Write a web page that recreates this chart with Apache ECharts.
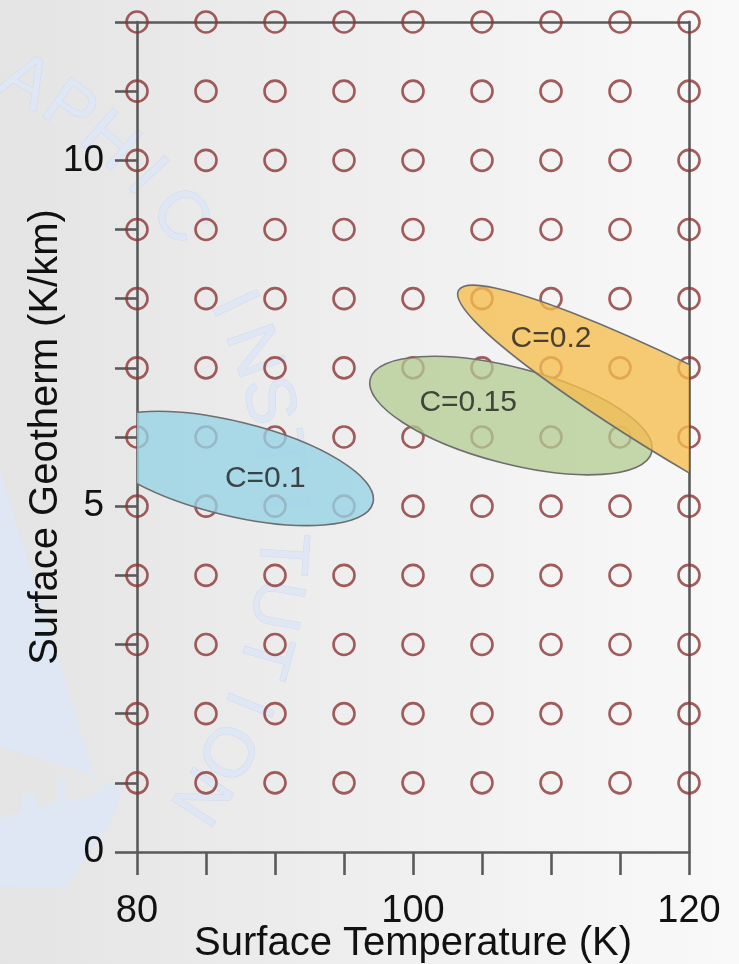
<!DOCTYPE html>
<html>
<head>
<meta charset="utf-8">
<script src="https://cdn.jsdelivr.net/npm/echarts@6/dist/echarts.min.js"></script>
<style>
html,body{margin:0;padding:0;overflow:hidden;}
#chart{width:739px;height:964px;}
</style>
</head>
<body>
<div id="chart"></div>
<script>
// ---- data ----
const xValues = [80, 85, 90, 95, 100, 105, 110, 115, 120];
const yValues = [1, 2, 3, 4, 5, 6, 7, 8, 9, 10, 11, 12];
const xTickLabels = ['80', '100', '120'];
const yTickLabels = ['0', '5', '10'];
const regionNames = ['C=0.1', 'C=0.15', 'C=0.2'];
// major-axis end points [x1, y1, x2, y2] in data units
const regionAxisEnds = [
  [76.7, 6.04, 97.1, 5.05],
  [96.9, 6.84, 117.3, 5.78],
  [103.3, 8.12, 151.1, 2.86]
];
// minor-axis full width in y (K/km) units
const regionWidths = [1.36, 1.39, 1.44];
const regionLabelX = [89.3, 104.0, 110.0];
const regionLabelY = [5.40, 6.50, 7.42];
const watermarkText = 'APHIC INSTITUTION';

// ---- styles ----
const axisColor = '#5a5a5a';
const regionFills = ['rgba(150,212,230,0.78)', 'rgba(178,204,146,0.75)', 'rgba(246,188,78,0.78)'];
const font = "'Liberation Sans', Arial, sans-serif";
const wmFill = 'rgba(222,231,246,0.95)';

const gridPoints = [];
yValues.forEach(y => xValues.forEach(x => gridPoints.push([x, y])));

const regionData = regionAxisEnds.map((e, i) => [e[0], e[1], e[2], e[3], regionWidths[i], i]);
const labelData = regionNames.map((n, i) => ({ name: n, value: [regionLabelX[i], regionLabelY[i]] }));

const chart = echarts.init(document.getElementById('chart'), null, { renderer: 'canvas' });

// watermark: letters along an arc and a ship silhouette
const wmGraphics = [];
const wmC = [-219, 520], wmR = 500;
const wmStart = -60.8, wmStep = 5.88;
for (let i = 0; i < watermarkText.length; i++) {
  const ch = watermarkText[i];
  if (ch === ' ') continue;
  const th = (wmStart + i * wmStep) * Math.PI / 180;
  wmGraphics.push({
    type: 'text',
    x: wmC[0] + wmR * Math.cos(th),
    y: wmC[1] + wmR * Math.sin(th),
    rotation: -(th + Math.PI / 2),
    z: -10, silent: true,
    style: {
      text: ch, fontSize: 70, fontFamily: font,
      fill: wmFill, stroke: 'rgba(205,216,234,0.9)', lineWidth: 1,
      align: 'center', verticalAlign: 'middle'
    }
  });
}
wmGraphics.push({
  type: 'polygon', z: -11, silent: true,
  shape: { points: [[0, 470], [97, 786], [90, 773], [0, 747]] },
  style: { fill: wmFill }
});
wmGraphics.push({
  type: 'polygon', z: -11, silent: true,
  shape: { points: [[0, 818], [22, 812], [22, 793], [37, 793], [37, 808], [57, 803], [57, 778], [65, 778], [65, 801], [92, 796], [108, 782], [122, 790], [112, 820], [66, 887], [0, 887]] },
  style: { fill: wmFill }
});
wmGraphics.push({
  type: 'polyline', z: -11, silent: true,
  shape: { points: [[0, 745], [90, 770]] },
  style: { stroke: wmFill, lineWidth: 2 }
});

const axisLineStyle = { color: axisColor, width: 2.6 };

const option = {
  animation: false,
  backgroundColor: new echarts.graphic.LinearGradient(0, 0, 1, 0, [
    { offset: 0, color: '#e4e4e4' },
    { offset: 1, color: '#f9f9f9' }
  ]),
  graphic: wmGraphics,
  grid: { left: 137, right: 50, top: 22, bottom: 112, containLabel: false, outerBoundsMode: 'none' },
  xAxis: [
    {
      type: 'value', min: 80, max: 120, interval: 5, position: 'bottom',
      axisLine: { show: true, onZero: false, lineStyle: axisLineStyle },
      axisTick: { show: true, length: 23, lineStyle: axisLineStyle },
      axisLabel: {
        show: true, fontSize: 38, fontFamily: font, color: '#111', margin: 41,
        formatter: v => (xTickLabels.indexOf(String(v)) >= 0 ? String(v) : '')
      },
      splitLine: { show: false },
      name: 'Surface Temperature (K)', nameLocation: 'middle', nameGap: 72, nameMoveOverlap: false,
      nameTextStyle: { fontSize: 40, fontFamily: font, color: '#111' }
    },
    {
      type: 'value', min: 80, max: 120, position: 'top',
      axisLine: { show: true, onZero: false, lineStyle: axisLineStyle },
      axisTick: { show: false }, axisLabel: { show: false }, splitLine: { show: false }
    }
  ],
  yAxis: [
    {
      type: 'value', min: 0, max: 12, interval: 1, position: 'left',
      axisLine: { show: true, onZero: false, lineStyle: axisLineStyle },
      axisTick: { show: true, length: 22, lineStyle: axisLineStyle },
      axisLabel: {
        show: true, fontSize: 37, fontFamily: font, color: '#111', margin: 33,
        formatter: v => (yTickLabels.indexOf(String(v)) >= 0 ? String(v) : '')
      },
      splitLine: { show: false },
      name: 'Surface Geotherm (K/km)', nameLocation: 'middle', nameGap: 71, nameRotate: 90, nameMoveOverlap: false,
      nameTextStyle: { fontSize: 40, fontFamily: font, color: '#111' }
    },
    {
      type: 'value', min: 0, max: 12, position: 'right',
      axisLine: { show: true, onZero: false, lineStyle: axisLineStyle },
      axisTick: { show: false }, axisLabel: { show: false }, splitLine: { show: false }
    }
  ],
  series: [
    {
      type: 'scatter', xAxisIndex: 0, yAxisIndex: 0,
      data: gridPoints, symbol: 'circle', symbolSize: 21,
      itemStyle: { color: 'rgba(0,0,0,0)', borderColor: '#8c3434', borderWidth: 2.6 },
      z: 3, silent: true
    },
    {
      type: 'custom', xAxisIndex: 0, yAxisIndex: 0,
      data: regionData, z: 4, silent: true,
      renderItem: function (params, api) {
        const p1 = api.coord([api.value(0), api.value(1)]);
        const p2 = api.coord([api.value(2), api.value(3)]);
        const minorPx = api.size([0, api.value(4)])[1];
        const idx = api.value(5);
        const cx = (p1[0] + p2[0]) / 2, cy = (p1[1] + p2[1]) / 2;
        const rx = Math.hypot(p2[0] - p1[0], p2[1] - p1[1]) / 2;
        const ang = Math.atan2(p2[1] - p1[1], p2[0] - p1[0]);
        const cs = params.coordSys;
        return {
          type: 'group',
          clipPath: { type: 'rect', shape: { x: cs.x, y: cs.y, width: cs.width, height: cs.height } },
          children: [{
            type: 'ellipse',
            x: cx, y: cy, rotation: -ang,
            shape: { cx: 0, cy: 0, rx: rx, ry: minorPx / 2 },
            style: { fill: regionFills[idx], stroke: '#6e6e6e', lineWidth: 1.6 }
          }]
        };
      }
    },
    {
      type: 'scatter', xAxisIndex: 0, yAxisIndex: 0,
      data: labelData, symbolSize: 1, z: 6, silent: true,
      itemStyle: { color: 'rgba(0,0,0,0)' },
      label: {
        show: true, position: 'inside', formatter: '{b}',
        fontSize: 30, fontFamily: font, color: '#1e1e1e'
      }
    }
  ]
};
chart.setOption(option);
</script>
</body>
</html>
